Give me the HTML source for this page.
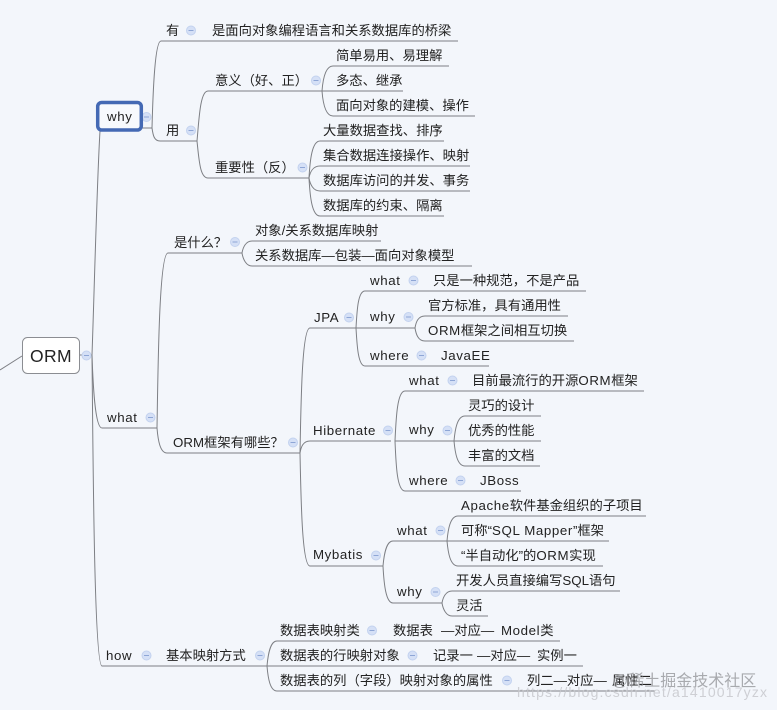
<!DOCTYPE html>
<html><head><meta charset="utf-8">
<style>
html,body{margin:0;padding:0;background:#f3f6fb;width:777px;height:710px;overflow:hidden}
svg{display:block;filter:blur(.3px)}
text{font-family:"Liberation Sans","Noto Sans CJK SC",sans-serif;font-size:13.3px;fill:#222}
.e{letter-spacing:.6px}
.l{fill:none;stroke:#7d7f84;stroke-width:1}
.c{fill:#d5e0f6;stroke:#c3d2ef;stroke-width:1}
.m{stroke:#8ea6d6;stroke-width:1}
</style></head><body>
<svg width="777" height="710" viewBox="0 0 777 710" xmlns="http://www.w3.org/2000/svg">
<defs><g id="o"><circle class="c" r="4.5"/><path class="m" d="M-2.5 0H2.5"/></g></defs>
<g class="l">
<path d="M0 370L22 356"/>
<path d="M80 355H92"/>
<!-- root trunk -->
<path d="M92 355C94 300 97 180 100 131"/>
<path d="M92 355C93 385 95 428 102 428H157"/>
<path d="M92 355C93 450 94 666 102 666H267"/>
<!-- why -->
<path d="M142 128H152"/>
<path d="M152 128C153 90 155 41 161 41H458"/>
<path d="M152 128C153 135 154 141 160 141H197"/>
<path d="M197 141C199 120 200 91 208 91H403"/>
<path d="M197 141C199 160 200 178 208 178H309"/>
<path d="M322 91C323 78 326 66 333 66H449"/>
<path d="M322 91C323 104 326 116 333 116H475"/>
<path d="M309 178C310 160 312 141 320 141H444"/>
<path d="M309 178C310 172 313 166 320 166H470"/>
<path d="M309 178C310 184 313 191 320 191H470"/>
<path d="M309 178C310 197 312 216 320 216H444"/>
<!-- what -->
<path d="M157 428C158 370 159 253 168 253H242"/>
<path d="M157 428C158 440 160 453 167 453H300"/>
<path d="M242 253C243 247 246 241 252 241H381"/>
<path d="M242 253C243 259 246 266 252 266H472"/>
<path d="M300 453C301 400 302 328 310 328H356"/>
<path d="M300 453C301 447 303 441 310 441H391"/>
<path d="M300 453C301 500 302 566 310 566H383"/>
<!-- JPA -->
<path d="M356 328C357 310 358 291 365 291H586"/>
<path d="M356 328H415"/>
<path d="M356 328C357 345 358 366 365 366H489"/>
<path d="M415 328C416 322 418 316 425 316H568"/>
<path d="M415 328C416 334 418 341 425 341H574"/>
<!-- Hibernate -->
<path d="M395 441C396 420 397 391 405 391H644"/>
<path d="M395 441H454"/>
<path d="M395 441C396 465 397 491 405 491H521"/>
<path d="M454 441C455 430 457 416 465 416H541"/>
<path d="M454 441H541"/>
<path d="M454 441C455 452 457 466 465 466H540"/>
<!-- Mybatis -->
<path d="M383 566C384 555 386 541 393 541H447"/>
<path d="M383 566C384 585 386 603 393 603H442"/>
<path d="M447 541C448 530 450 516 458 516H646"/>
<path d="M447 541H609"/>
<path d="M447 541C448 552 450 566 458 566H603"/>
<path d="M442 603C443 597 446 591 452 591H620"/>
<path d="M442 603C443 609 446 616 452 616H488"/>
<!-- how -->
<path d="M267 666C268 655 270 641 277 641H560"/>
<path d="M267 666H583"/>
<path d="M267 666C268 678 270 691 277 691H655"/>
</g>

<use href="#o" x="146.500" y="117"/>
<rect x="22.500" y="337.500" width="57" height="36" rx="5" fill="#fff" stroke="#8b8d92"/>
<text x="30" y="362" class="e" style="font-size:17.500px;letter-spacing:.4px">ORM</text>
<rect x="97.700" y="102.500" width="43.600" height="27.500" rx="4" fill="#f7f9fd" stroke="#4469b4" stroke-width="3.500"/>
<text x="107" y="121" class="e">why</text>

<use href="#o" x="86.500" y="355.500"/>
<use href="#o" x="150.500" y="417.500"/>
<use href="#o" x="191" y="30.500"/>
<use href="#o" x="191" y="130.500"/>
<use href="#o" x="316" y="80.500"/>
<use href="#o" x="302.500" y="167.500"/>
<use href="#o" x="235" y="242"/>
<use href="#o" x="293" y="442.500"/>
<use href="#o" x="349" y="317.500"/>
<use href="#o" x="413.500" y="280.500"/>
<use href="#o" x="408.500" y="317"/>
<use href="#o" x="421.500" y="355.500"/>
<use href="#o" x="388" y="430.500"/>
<use href="#o" x="452.500" y="380.500"/>
<use href="#o" x="447.500" y="430.500"/>
<use href="#o" x="460.500" y="480.500"/>
<use href="#o" x="376" y="555.500"/>
<use href="#o" x="440.500" y="530.500"/>
<use href="#o" x="435.500" y="592"/>
<use href="#o" x="146.500" y="655.500"/>
<use href="#o" x="260" y="655.500"/>
<use href="#o" x="372" y="630.500"/>
<use href="#o" x="412.500" y="655.500"/>
<use href="#o" x="507" y="680.500"/>

<text x="166" y="35">有</text>
<text x="212" y="35">是面向对象编程语言和关系数据库的桥梁</text>
<text x="166" y="135">用</text>
<text x="215" y="85">意义（好、正）</text>
<text x="336" y="60">简单易用、易理解</text>
<text x="336" y="85">多态、继承</text>
<text x="336" y="110">面向对象的建模、操作</text>
<text x="215" y="172">重要性（反）</text>
<text x="323" y="135">大量数据查找、排序</text>
<text x="323" y="160">集合数据连接操作、映射</text>
<text x="323" y="185">数据库访问的并发、事务</text>
<text x="323" y="210">数据库的约束、隔离</text>
<text x="174" y="247">是什么？</text>
<text x="255" y="235">对象/关系数据库映射</text>
<text x="255" y="260">关系数据库—包装—面向对象模型</text>
<text x="107" y="422" class="e">what</text>
<text x="173" y="447">ORM框架有哪些？</text>
<text x="314" y="322" class="e">JPA</text>
<text x="370" y="285" class="e">what</text>
<text x="433" y="285">只是一种规范，不是产品</text>
<text x="370" y="321" class="e">why</text>
<text x="428" y="310">官方标准，具有通用性</text>
<text x="428" y="335"><tspan class="e">ORM</tspan>框架之间相互切换</text>
<text x="370" y="360" class="e">where</text>
<text x="441" y="360" class="e">JavaEE</text>
<text x="313" y="435" class="e">Hibernate</text>
<text x="409" y="385" class="e">what</text>
<text x="472" y="385">目前最流行的开源<tspan class="e">ORM</tspan>框架</text>
<text x="409" y="434" class="e">why</text>
<text x="468" y="410">灵巧的设计</text>
<text x="468" y="435">优秀的性能</text>
<text x="468" y="460">丰富的文档</text>
<text x="409" y="485" class="e">where</text>
<text x="480" y="485" class="e">JBoss</text>
<text x="313" y="559" class="e">Mybatis</text>
<text x="397" y="535" class="e">what</text>
<text x="461" y="510"><tspan class="e">Apache</tspan>软件基金组织的子项目</text>
<text x="461" y="535">可称“<tspan class="e">SQL Mapper</tspan>”框架</text>
<text x="461" y="560">“半自动化”的<tspan class="e">ORM</tspan>实现</text>
<text x="397" y="596" class="e">why</text>
<text x="456" y="585">开发人员直接编写SQL语句</text>
<text x="456" y="610">灵活</text>
<text x="106" y="660" class="e">how</text>
<text x="166" y="660">基本映射方式</text>
<text x="280" y="635">数据表映射类</text>
<text x="393" y="635">数据表</text>
<text x="441" y="635">—对应—</text>
<text x="501" y="635"><tspan class="e">Model</tspan>类</text>
<text x="280" y="660">数据表的行映射对象</text>
<text x="433" y="660">记录一</text>
<text x="477" y="660">—对应—</text>
<text x="537" y="660">实例一</text>
<text x="280" y="685">数据表的列（字段）映射对象的属性</text>
<text x="527" y="685">列二—对应—</text>
<text x="612" y="685">属性二</text>

<text x="612" y="686" style="font-size:16px;fill:#8f9094;fill-opacity:.75">@稀土掘金技术社区</text>
<text x="517" y="697" textLength="250" lengthAdjust="spacing" style="font-size:14px;fill:#c4c6ca;fill-opacity:.8">https://blog.csdn.net/a1410017yzx</text>
</svg>
</body></html>
